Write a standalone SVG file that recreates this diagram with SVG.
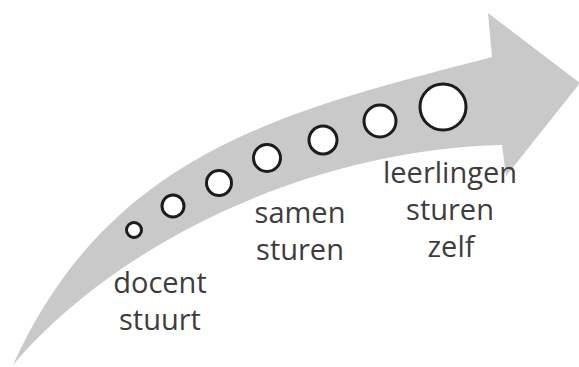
<svg xmlns="http://www.w3.org/2000/svg" width="579" height="367" viewBox="0 0 579 367">
  <style>
    .dot { fill: #ffffff; stroke: #1c1c1c; stroke-width: 3; }
    .lbl { font-family: "Open Sans", "Noto Sans", sans-serif; font-size: 29px; fill: #3d3d3d; text-anchor: middle; }
  </style>
  <rect width="579" height="367" fill="#ffffff"/>
  <g id="arrow">
    <path d="M13,365 C110,150 290,110 492,57 L488,13 L580,83 L506,176 L502,145 C300,150 110,250 13,365 Z" fill="#c9c9c9"/>
  </g>
  <g id="steps">
    <circle class="dot" cx="134" cy="230" r="7.5"/>
    <circle class="dot" cx="173" cy="206" r="11"/>
    <circle class="dot" cx="219" cy="183" r="12.5"/>
    <circle class="dot" cx="267" cy="158" r="13.5"/>
    <circle class="dot" cx="323" cy="140" r="14"/>
    <circle class="dot" cx="380" cy="121" r="16"/>
    <circle class="dot" cx="443" cy="107" r="23"/>
  </g>
  <g id="label-docent">
    <text class="lbl" x="160" y="293">docent</text>
    <text class="lbl" x="160" y="330">stuurt</text>
  </g>
  <g id="label-samen">
    <text class="lbl" x="300" y="223">samen</text>
    <text class="lbl" x="300" y="260">sturen</text>
  </g>
  <g id="label-leerlingen">
    <text class="lbl" x="450" y="183">leerlingen</text>
    <text class="lbl" x="450" y="220">sturen</text>
    <text class="lbl" x="451" y="257">zelf</text>
  </g>
</svg>
